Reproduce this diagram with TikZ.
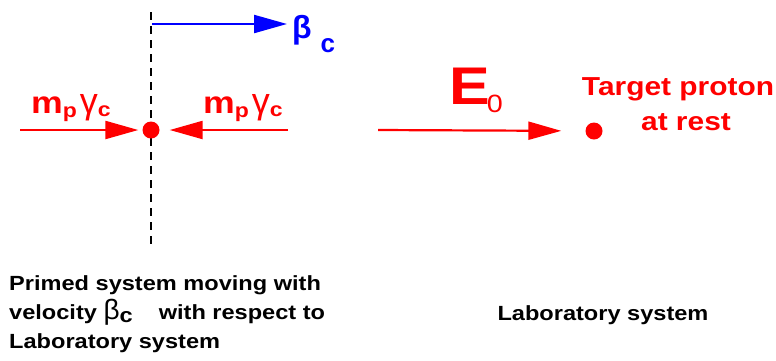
\documentclass[tikz,border=0pt]{standalone}
\usepackage{fontspec}
\setmainfont{Liberation Sans}[FakeStretch=1.15]
\newfontfamily\greekfont{Liberation Sans}
\usetikzlibrary{arrows.meta}
\newcommand{\mpgamma}{\fontsize{31}{31}\selectfont m\raisebox{-4pt}{\fontsize{20}{20}\selectfont p}\hspace{3pt}{\greekfont\mdseries\fontsize{36}{36}\selectfont γ}\raisebox{-3pt}{\fontsize{20}{20}\selectfont c}}

\begin{document}
\begin{tikzpicture}[x=1pt,y=-1pt,
		bigarrow/.style={line width=2.2pt,-{Triangle[length=33pt,width=18pt]}},
		particle/.style={circle,fill=red,inner sep=0pt,minimum size=17pt},
		lbl/.style={inner sep=0pt,font=\bfseries}]
	\useasboundingbox (0,0) rectangle (776,360);
	\coordinate (frametop) at (151,12);
	\coordinate (framebot) at (151,245);
	\draw[line width=2pt,dash pattern=on 8pt off 6pt] (frametop) -- (framebot);
	\node[particle] (pL) at (151,130) {};
	\node[particle] (pT) at (594,131) {};
	\coordinate (inL) at (20,130);
	\coordinate (inR) at (288,130);
	\coordinate (beamstart) at (378,130);
	\coordinate (betastart) at (152,24);
	\coordinate (betatip) at (287,24);
	\draw[bigarrow,blue] (betastart) -- (betatip);
	\draw[bigarrow,red,shorten >=4pt] (inL) -- (pL);
	\draw[bigarrow,red,shorten >=10pt] (inR) -- (pL);
	\draw[bigarrow,red,shorten >=24pt] (beamstart) -- (pT);
	\node[lbl,blue,anchor=base west] (betalbl) at (292,38) {\greekfont\fontsize{32}{32}\selectfont β\hspace{9pt}\raisebox{-14pt}{\fontsize{26}{26}\selectfont\bfseries c}};
	\node[lbl,red,anchor=base west] (mL) at (31,113) {\mpgamma};
	\node[lbl,red,anchor=base west] (mR) at (203,113) {\mpgamma};
	\node[lbl,red,anchor=base west] (Elbl) at (449,104) {\fontsize{53}{53}\selectfont E\hspace{-3pt}\raisebox{-8pt}{\fontsize{25}{25}\selectfont\mdseries 0}};
	\node[lbl,red,align=center,anchor=base,font=\bfseries\fontsize{26}{35}\selectfont] (target) at (678,130) {Target proton\\\hspace*{16pt}at rest};
	\node[lbl,align=left,anchor=base west,font=\bfseries\fontsize{20.5}{29}\selectfont] (primed) at (9,348) {Primed system moving with\\velocity {\greekfont\mdseries\fontsize{28}{28}\selectfont β}\raisebox{-3pt}{c}\hspace{26pt}with respect to\\Laboratory system};
	\node[lbl,anchor=base,font=\bfseries\fontsize{20.5}{29}\selectfont] (labsys) at (603,320) {Laboratory system};
\end{tikzpicture}
\end{document}
